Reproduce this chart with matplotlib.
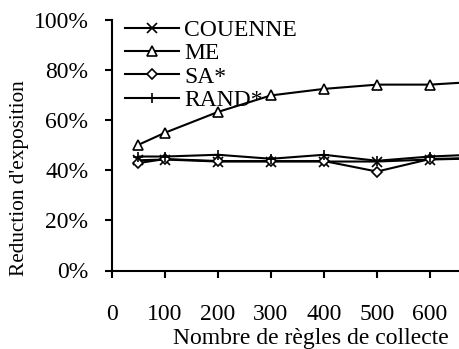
import matplotlib
matplotlib.use("Agg")
import matplotlib.pyplot as plt
from matplotlib.ticker import PercentFormatter

# data
rules = [50, 100, 200, 300, 400, 500, 600, 700]
couenne = [44.0, 44.3, 43.5, 43.5, 43.5, 43.5, 44.3, 44.8]
me = [50.2, 55.0, 63.3, 69.9, 72.5, 74.2, 74.2, 75.5]
sa = [42.9, 44.5, 43.7, 43.7, 43.7, 39.5, 44.5, 45.0]
rand = [45.5, 45.5, 46.2, 44.6, 46.2, 43.8, 45.5, 46.4]
x_ticks = [0, 100, 200, 300, 400, 500, 600]
y_ticks = [0, 20, 40, 60, 80, 100]

plt.rcParams['font.family'] = ['Liberation Serif', 'DejaVu Serif']
plt.rcParams['font.size'] = 17

fig = plt.figure(figsize=(4.6, 3.49), dpi=100)
# axes runs past the right edge of the figure, as in the original
ax = fig.add_axes([112/460, 1 - 270.5/349, 371/460, 250.5/349])

style = dict(color='black', lw=1.5, markersize=6.5, markeredgewidth=1.2)
ax.plot(rules, couenne, marker='x', label='COUENNE', **style)
ax.plot(rules, me, marker='^', markerfacecolor='white', label='ME', **style)
ax.plot(rules, sa, marker='D', markersize=4.8, markerfacecolor='white',
        color='black', lw=1.5, markeredgewidth=1.2, label='SA*')
ax.plot(rules, rand, marker='+', label='RAND*', **style)

ax.set_xlim(0, 700)
ax.set_ylim(0, 100)
ax.set_xticks(x_ticks)
ax.set_yticks(y_ticks)
ax.yaxis.set_major_formatter(PercentFormatter(decimals=0))
ax.spines['top'].set_visible(False)
ax.spines['right'].set_visible(False)
ax.spines['left'].set_linewidth(1.5)
ax.spines['bottom'].set_linewidth(1.5)
ax.tick_params(axis='x', direction='out', length=5, width=1.5, pad=19)
ax.tick_params(axis='y', direction='out', length=5, width=1.5, pad=12)

ax.set_xlabel('Nombre de règles de collecte', va='center')
ax.xaxis.set_label_coords(0.535, -0.27)
ax.set_ylabel("Reduction d'exposition", va='center', fontsize=15.3)
ax.yaxis.set_label_coords(-0.248, 0.37)

leg = ax.legend(loc='upper left', bbox_to_anchor=(0.035, 1.003), frameon=False,
                handlelength=2.3, handletextpad=0.2, labelspacing=0.08,
                borderpad=0.0, borderaxespad=0.0)

fig.savefig('out.png', dpi=100)
